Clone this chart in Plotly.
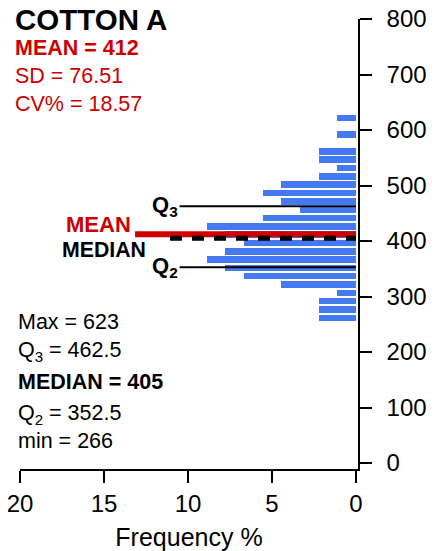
import plotly.graph_objects as go

# ---- data ----
bin_centers = [261.5, 276.5, 291.5, 306.5, 321.5, 336.5, 351.5, 366.5, 381.5, 396.5,
               411.5, 426.5, 441.5, 456.5, 471.5, 486.5, 501.5, 516.5, 531.5, 546.5,
               561.5, 576.5, 591.5, 606.5, 621.5]
frequency_pct = [2.22, 2.22, 2.22, 1.11, 4.44, 6.67, 7.78, 8.89, 7.78, 6.67,
                 7.78, 8.89, 5.56, 3.33, 4.44, 5.56, 4.44, 2.22, 1.11, 2.22,
                 2.22, 0.0, 1.11, 0.0, 1.11]
MEAN = 412
MEDIAN = 405
Q3 = 462.5
Q2 = 352.5
SD = 76.51
CV = 18.57
MAX = 623
MIN = 266
x_ticks = [0, 5, 10, 15, 20]
y_ticks = [0, 100, 200, 300, 400, 500, 600, 700, 800]

# ---- style ----
FONT = "Liberation Sans, Arial, sans-serif"
RED = "#CC0000"
BLUE = "#4479F0"
OFF = 8                       # page body margin
W, H = 436 - OFF, 551 - OFF
L, R, T, B = 12, 78, 11, 82
PW, PH = W - L - R, H - T - B

# line extents (in % frequency) for reference lines
Q_LINE_LEN = 10.5
MEAN_LINE_LEN = 13.15
MEDIAN_LINE_LEN = 11.07

fig = go.Figure()
fig.add_trace(go.Bar(
    x=frequency_pct, y=bin_centers, orientation="h", width=11.7,
    marker=dict(color=BLUE, line=dict(width=0)), showlegend=False, hoverinfo="skip"))

for q in (Q3, Q2):
    fig.add_trace(go.Scatter(x=[Q_LINE_LEN, 0], y=[q, q], mode="lines",
                             line=dict(color="black", width=2), showlegend=False))
fig.add_trace(go.Scatter(x=[MEAN_LINE_LEN, 0], y=[MEAN, MEAN], mode="lines",
                         line=dict(color=RED, width=6), showlegend=False))
fig.add_trace(go.Scatter(x=[MEDIAN_LINE_LEN, 0], y=[MEDIAN, MEDIAN], mode="lines",
                         line=dict(color="black", width=5, dash="12px,10px"), showlegend=False))


def px2paper(x, y):
    # x, y are page pixel positions
    x -= OFF
    y -= OFF
    return (x - L) / PW, (H - B - y) / PH


def note(text, x, y, size=21.5, color="black", bold=False, height=None):
    px_, py_ = px2paper(x, y)
    if bold:
        text = "<b>" + text + "</b>"
    fig.add_annotation(text=text, x=px_, y=py_, xref="paper", yref="paper",
                       xanchor="left", yanchor="middle", showarrow=False, height=height,
                       font=dict(family=FONT, size=size, color=color))


note("COTTON A", 13, 19, size=29.5, bold=True, height=26)
note(f"MEAN = {MEAN}", 13, 48, color=RED, bold=True)
note(f"SD = {SD}", 13, 76, color=RED)
note(f"CV% = {CV}", 13, 104.5, color=RED)
note(f"Max = {MAX}", 16, 321.5)
note(f"Q<sub>3</sub> = {Q3}", 16, 351)
note(f"MEDIAN = {MEDIAN}", 16, 381.5, bold=True)
note(f"Q<sub>2</sub> = {Q2}", 16, 414)
note(f"min = {MIN}", 16, 441)

# line labels
fig.add_annotation(text="<b>MEAN</b>", x=MEAN_LINE_LEN, y=MEAN, xref="x", yref="y",
                   xanchor="right", yanchor="middle", xshift=-2, yshift=10, showarrow=False,
                   font=dict(family=FONT, size=22, color=RED))
fig.add_annotation(text="<b>MEDIAN</b>", x=MEDIAN_LINE_LEN, y=MEDIAN, xref="x", yref="y",
                   xanchor="right", yanchor="middle", xshift=-22, yshift=-12, showarrow=False,
                   font=dict(family=FONT, size=21.3, color="black"))
fig.add_annotation(text="<b>Q<sub>3</sub></b>", x=Q_LINE_LEN, y=Q3, xref="x", yref="y",
                   xanchor="right", yanchor="middle", xshift=0, yshift=0, showarrow=False,
                   font=dict(family=FONT, size=22, color="black"))
fig.add_annotation(text="<b>Q<sub>2</sub></b>", x=Q_LINE_LEN, y=Q2, xref="x", yref="y",
                   xanchor="right", yanchor="middle", xshift=0, yshift=0, showarrow=False,
                   font=dict(family=FONT, size=22, color="black"))

fig.update_layout(
    width=W, height=H, margin=dict(l=L, r=R, t=T, b=B, autoexpand=False),
    paper_bgcolor="white", plot_bgcolor="white",
    font=dict(family=FONT, color="black"),
    bargap=0,
    xaxis=dict(range=[20, -0.119], tickvals=x_ticks, ticks="outside", ticklen=12,
               tickwidth=1.5, tickcolor="black", showline=True, linecolor="black",
               linewidth=1.5, showgrid=False, zeroline=False, automargin=False,
               ticklabeloverflow="allow",
               tickfont=dict(size=24, family=FONT),
               title=dict(text="Frequency %", font=dict(size=25, family=FONT), standoff=14)),
    yaxis=dict(range=[-10.8, 800], tickvals=y_ticks, side="right", ticks="outside",
               ticklen=12, tickwidth=1.5, tickcolor="black", showline=True,
               linecolor="black", linewidth=1.5, showgrid=False, zeroline=False,
               automargin=False, ticklabeloverflow="allow", ticklabelstandoff=10,
               tickfont=dict(size=24, family=FONT)),
)

fig.write_html("out.html")
